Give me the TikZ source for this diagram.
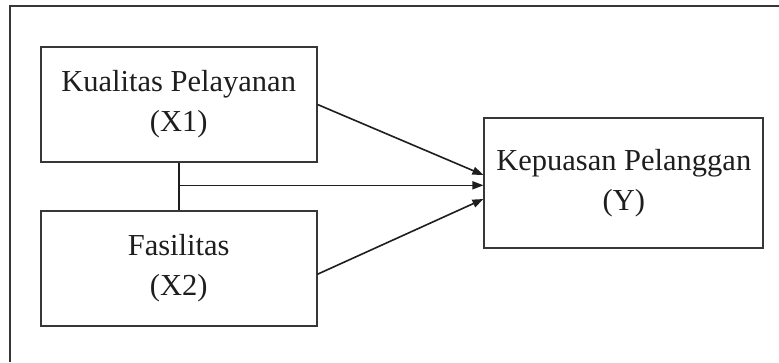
\documentclass[tikz,border=0pt]{standalone}
\usepackage{fontspec}
\setmainfont{Liberation Serif}
\usetikzlibrary{arrows.meta}
\definecolor{ink}{RGB}{30,30,30}
\definecolor{edge}{RGB}{55,55,55}
\tikzset{
  varbox/.style={draw=edge, line width=1.7pt, inner sep=0pt, align=center,
    text=ink, font=\fontsize{30.5}{40}\selectfont},
  link/.style={draw=ink, line width=1.6pt},
  arr/.style={link, -{Triangle[length=11pt,width=8pt]}},
}
\begin{document}
\begin{tikzpicture}[x=1pt,y=-1pt]
\useasboundingbox (0,0) rectangle (779,362);
\fill[white] (0,0) rectangle (779,362);
\draw[edge, line width=2pt] (10,362) -- (10,6) -- (779,6);
\node[varbox, minimum width=276pt, minimum height=115.6pt] (x1) at (178.7,104.5) {Kualitas Pelayanan\\(X1)};
\node[varbox, minimum width=276pt, minimum height=115pt] (x2) at (178.7,268.2) {Fasilitas\\(X2)};
\node[varbox, minimum width=279pt, minimum height=130.6pt] (y) at (623.8,183) {Kepuasan Pelanggan\\(Y)};
\coordinate (j) at (179,185.3);
\draw[link] (x1.south) -- (x2.north);
\draw[arr] (j) -- (j -| y.west);
\draw[arr] ([yshift=0pt]x1.east) -- ([yshift=8pt]y.west);
\draw[arr] ([yshift=-6pt]x2.east) -- ([yshift=-16pt]y.west);
\end{tikzpicture}
\end{document}
